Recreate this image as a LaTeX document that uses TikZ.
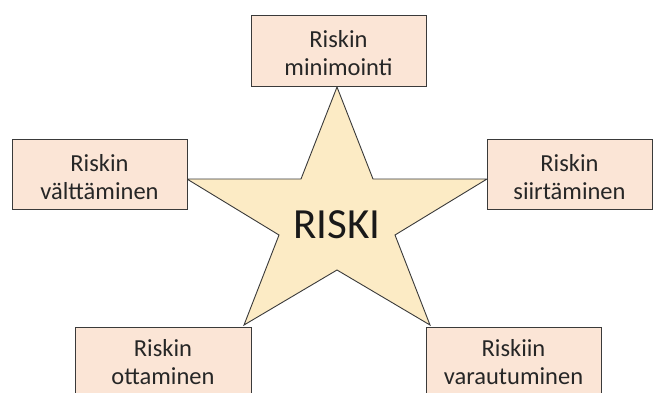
\documentclass[tikz,border=0pt]{standalone}
\usepackage{fontspec}
\setmainfont{Carlito}
\definecolor{boxfill}{HTML}{FBE5D6}
\definecolor{starfill}{HTML}{FCEBC5}
\definecolor{edge}{HTML}{3A3A3A}
\begin{document}
\begin{tikzpicture}[x=1pt,y=-1pt,
  optbox/.style={draw=edge,line width=0.9pt,fill=boxfill},
  boxtext/.style={align=center,font=\fontsize{24.5}{28}\selectfont,text=black!85,inner sep=0pt},
  starshape/.style={draw=edge,line width=0.9pt,fill=starfill,line join=miter}]
\useasboundingbox (0,0) rectangle (655,392);
\clip (0,0) rectangle (655,392);
% star
\coordinate (sT) at (337,87);
\coordinate (sIR) at (373,179);
\coordinate (sR) at (487,179);
\coordinate (sILR) at (395,235);
\coordinate (sBR) at (430,325);
\coordinate (sIB) at (337,270);
\coordinate (sBL) at (244,325);
\coordinate (sILL) at (279,235);
\coordinate (sL) at (187,179);
\coordinate (sIL) at (301,179);
\draw[starshape] (sT) -- (sIR) -- (sR) -- (sILR) -- (sBR) -- (sIB) -- (sBL) -- (sILL) -- (sL) -- (sIL) -- cycle;
\node[font=\fontsize{43}{43}\selectfont,text=black!90,inner sep=0pt] (riski) at (337,225) {RISKI};
% boxes
\draw[optbox] (251,15) rectangle (426,86);
\node[boxtext] (top) at (338.5,53) {Riskin\\minimointi};
\draw[optbox] (12,139) rectangle (187,209);
\node[boxtext] (left) at (99.5,177) {Riskin\\välttäminen};
\draw[optbox] (487,139) rectangle (652,209);
\node[boxtext] (right) at (569.5,177) {Riskin\\siirtäminen};
\draw[optbox] (75,327) rectangle (251,410);
\node[boxtext] (bl) at (163,362) {Riskin\\ottaminen};
\draw[optbox] (426,327) rectangle (601,410);
\node[boxtext] (br) at (513.5,362) {Riskiin\\varautuminen};
\end{tikzpicture}
\end{document}
